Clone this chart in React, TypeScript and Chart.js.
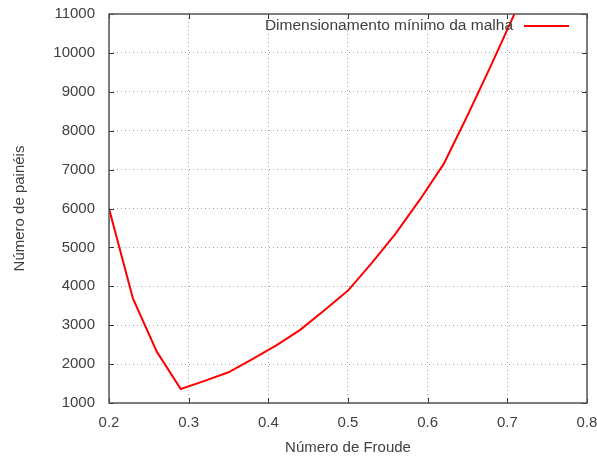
import React, { useEffect, useRef } from "react";
import { Chart, registerables } from "chart.js";

Chart.register(...registerables);

const froude = [0.2, 0.23, 0.26, 0.29, 0.32, 0.35, 0.38, 0.41, 0.44, 0.47, 0.5, 0.53, 0.56, 0.59, 0.62, 0.65, 0.68, 0.71, 0.74];
const paineis = [6000, 3690, 2320, 1360, 1570, 1790, 2130, 2480, 2880, 3380, 3890, 4600, 5360, 6220, 7140, 8390, 9700, 11050, 12600];
const xTicks = [0.2, 0.3, 0.4, 0.5, 0.6, 0.7, 0.8];
const yTicks = [1000, 2000, 3000, 4000, 5000, 6000, 7000, 8000, 9000, 10000, 11000];
const seriesLabel = "Dimensionamento mínimo da malha";
const xTitle = "Número de Froude";
const yTitle = "Número de painéis";

const FONT = "'Liberation Sans', Arial, sans-serif";
const TEXT = "#404040";

const framePlugin = {
  id: "frame",
  afterDatasetsDraw(chart: any) {
    const { ctx, chartArea } = chart;
    const { left, right, top, bottom } = chartArea;
    const xs = chart.scales.x;
    const ys = chart.scales.y;
    ctx.save();
    ctx.strokeStyle = "#333";
    ctx.lineWidth = 1;
    ctx.beginPath();
    yTicks.forEach((v) => {
      const py = Math.round(ys.getPixelForValue(v)) + 0.5;
      ctx.moveTo(left, py);
      ctx.lineTo(left + 5, py);
      ctx.moveTo(right, py);
      ctx.lineTo(right - 5, py);
    });
    xTicks.forEach((v) => {
      const px = Math.round(xs.getPixelForValue(v)) + 0.5;
      ctx.moveTo(px, bottom);
      ctx.lineTo(px, bottom - 5);
      ctx.moveTo(px, top);
      ctx.lineTo(px, top + 5);
    });
    ctx.stroke();
    ctx.strokeStyle = "#555";
    ctx.lineWidth = 1.5;
    ctx.strokeRect(left, top, right - left, bottom - top);
    ctx.font = `15.5px ${FONT}`;
    ctx.fillStyle = TEXT;
    ctx.textAlign = "right";
    ctx.textBaseline = "middle";
    ctx.fillText(seriesLabel, right - 74, top + 12);
    ctx.strokeStyle = "#ff0000";
    ctx.lineWidth = 2;
    ctx.beginPath();
    ctx.moveTo(right - 63, top + 12);
    ctx.lineTo(right - 18, top + 12);
    ctx.stroke();
    ctx.restore();
  },
};

export default function App() {
  const ref = useRef<HTMLCanvasElement>(null);
  useEffect(() => {
    if (!ref.current) return;
    const chart = new Chart(ref.current, {
      type: "line",
      data: {
        datasets: [
          {
            label: seriesLabel,
            data: froude.map((x, i) => ({ x, y: paineis[i] })),
            borderColor: "#ff0000",
            borderWidth: 2,
            pointRadius: 0,
            tension: 0,
            fill: false,
          },
        ],
      },
      options: {
        animation: false,
        responsive: false,
        devicePixelRatio: 1,
        layout: { padding: { top: 14, right: 10, left: 0, bottom: 0 } },
        plugins: { legend: { display: false }, tooltip: { enabled: false } },
        scales: {
          x: {
            type: "linear",
            min: 0.2,
            max: 0.8,
            afterBuildTicks: (s: any) => {
              s.ticks = xTicks.map((v) => ({ value: v }));
            },
            afterFit: (s: any) => {
              s.height = 56;
              s.paddingLeft = 0;
              s.paddingRight = 0;
            },
            ticks: {
              padding: 11,
              color: TEXT,
              font: { family: FONT, size: 15 },
              callback: (v: any) => String(v),
              maxRotation: 0,
              autoSkip: false,
            },
            grid: {
              color: "#a8a8a8",
              lineWidth: 1,
              drawTicks: false,
            },
            border: { display: false, dash: [1, 3] },
            title: {
              display: true,
              text: xTitle,
              color: TEXT,
              font: { family: FONT, size: 15 },
              padding: { top: 2, bottom: 2 },
            },
          },
          y: {
            type: "linear",
            min: 1000,
            max: 11000,
            afterBuildTicks: (s: any) => {
              s.ticks = yTicks.map((v) => ({ value: v }));
            },
            afterFit: (s: any) => {
              s.width = 109;
              s.paddingTop = 0;
              s.paddingBottom = 0;
            },
            ticks: {
              padding: 14,
              color: TEXT,
              font: { family: FONT, size: 15 },
              callback: (v: any) => String(v),
              autoSkip: false,
            },
            grid: {
              color: "#a8a8a8",
              lineWidth: 1,
              drawTicks: false,
            },
            border: { display: false, dash: [1, 3] },
            title: {
              display: true,
              text: yTitle,
              color: TEXT,
              font: { family: FONT, size: 15 },
              padding: { top: 11, bottom: 11 },
            },
          },
        },
      },
      plugins: [framePlugin],
    });
    return () => chart.destroy();
  }, []);
  return (
    <div style={{ position: "fixed", left: 0, top: 0, width: 597, height: 459, background: "#fff" }}>
      <canvas ref={ref} width={597} height={459} style={{ width: 597, height: 459 }} />
    </div>
  );
}
